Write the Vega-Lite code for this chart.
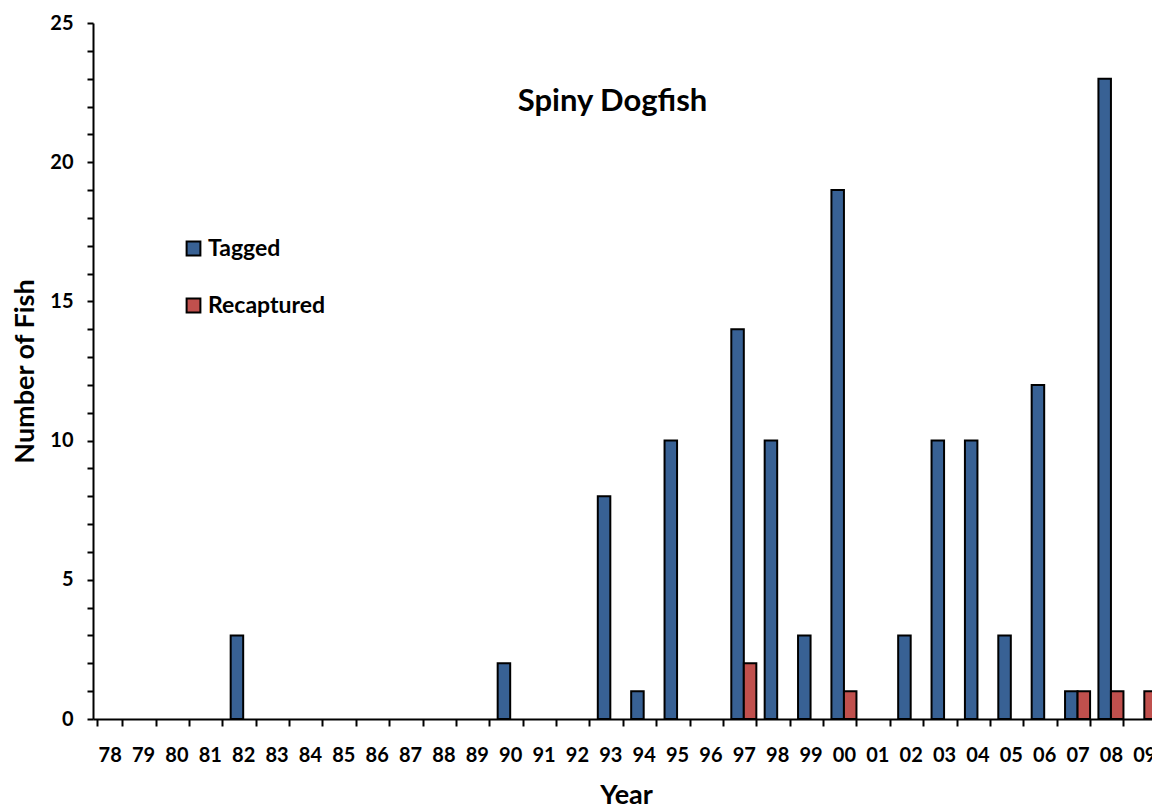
{
  "$schema": "https://vega.github.io/schema/vega-lite/v6.json",
  "autosize": "none",
  "width": 1059,
  "height": 696,
  "padding": {"left": 93, "top": 23, "right": 0, "bottom": 86},
  "background": "white",
  "config": {"view": {"stroke": null}, "font": "Lato"},
  "title": {"text": "Spiny Dogfish", "font": "Lato", "fontSize": 31, "fontWeight": "bold", "color": "black", "anchor": "middle", "dx": -10, "dy": 109},
  "data": {"values": [
    {"year": "82", "series": "Tagged", "count": 3},
    {"year": "90", "series": "Tagged", "count": 2},
    {"year": "93", "series": "Tagged", "count": 8},
    {"year": "94", "series": "Tagged", "count": 1},
    {"year": "95", "series": "Tagged", "count": 10},
    {"year": "97", "series": "Tagged", "count": 14},
    {"year": "97", "series": "Recaptured", "count": 2},
    {"year": "98", "series": "Tagged", "count": 10},
    {"year": "99", "series": "Tagged", "count": 3},
    {"year": "00", "series": "Tagged", "count": 19},
    {"year": "00", "series": "Recaptured", "count": 1},
    {"year": "02", "series": "Tagged", "count": 3},
    {"year": "03", "series": "Tagged", "count": 10},
    {"year": "04", "series": "Tagged", "count": 10},
    {"year": "05", "series": "Tagged", "count": 3},
    {"year": "06", "series": "Tagged", "count": 12},
    {"year": "07", "series": "Tagged", "count": 1},
    {"year": "07", "series": "Recaptured", "count": 1},
    {"year": "08", "series": "Tagged", "count": 23},
    {"year": "08", "series": "Recaptured", "count": 1},
    {"year": "09", "series": "Recaptured", "count": 1}
  ]},
  "mark": {"type": "bar", "stroke": "black", "strokeWidth": 2},
  "encoding": {
    "x": {
      "field": "year", "type": "nominal", "title": "Year",
      "scale": {
        "domain": ["78","79","80","81","82","83","84","85","86","87","88","89","90","91","92","93","94","95","96","97","98","99","00","01","02","03","04","05","06","07","08","09"],
        "range": [0, 1068],
        "paddingInner": 0.25, "paddingOuter": 0.125
      },
      "axis": {
        "labelAngle": 0, "tickBand": "extent", "domainColor": "black", "domainWidth": 2,
        "tickColor": "black", "tickWidth": 2, "tickSize": 7,
        "labelFont": "Lato", "labelFontSize": 20, "labelFontWeight": "bold", "labelColor": "black", "labelPadding": 19,
        "titleFont": "Lato", "titleFontSize": 27, "titleFontWeight": "bold", "titleColor": "black", "titlePadding": 17,
        "titleX": 533, "labelOverlap": false
      }
    },
    "xOffset": {"field": "series", "type": "nominal", "scale": {"domain": ["Tagged", "Recaptured"]}},
    "y": {
      "field": "count", "type": "quantitative", "title": "Number of Fish",
      "scale": {"domain": [0, 25], "nice": false},
      "axis": {
        "values": [0,1,2,3,4,5,6,7,8,9,10,11,12,13,14,15,16,17,18,19,20,21,22,23,24,25],
        "labelExpr": "datum.value % 5 == 0 ? datum.label : ''",
        "grid": false, "domainColor": "black", "domainWidth": 2,
        "tickColor": "black", "tickWidth": 2, "tickSize": 6,
        "labelFont": "Lato", "labelFontSize": 20, "labelFontWeight": "bold", "labelColor": "black", "labelPadding": 14,
        "titleFont": "Lato", "titleFontSize": 27, "titleFontWeight": "bold", "titleColor": "black", "titlePadding": 10
      }
    },
    "color": {
      "field": "series", "type": "nominal",
      "scale": {"domain": ["Tagged", "Recaptured"], "range": ["#386194", "#C0504D"]},
      "legend": {
        "title": null, "orient": "none", "legendX": 89, "legendY": 214,
        "symbolType": "square", "symbolSize": 190, "symbolStrokeColor": "black", "symbolStrokeWidth": 2,
        "labelFont": "Lato", "labelFontSize": 23, "labelFontWeight": "bold", "labelColor": "black",
        "labelOffset": 3, "rowPadding": 33
      }
    }
  }
}
